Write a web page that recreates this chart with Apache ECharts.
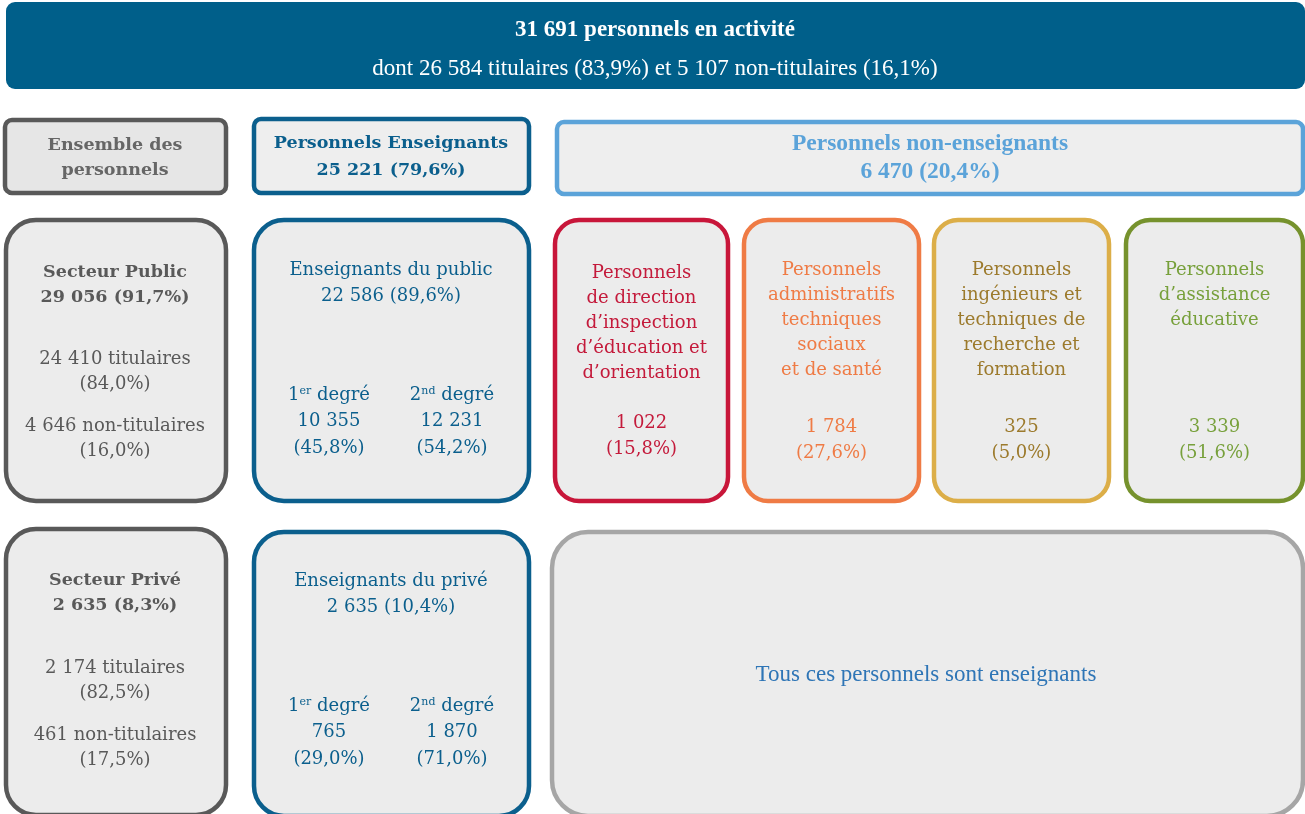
<!DOCTYPE html>
<html>
<head>
<meta charset="utf-8">
<script src="https://cdn.jsdelivr.net/npm/echarts@6/dist/echarts.min.js"></script>
<style>
  html, body { margin: 0; padding: 0; background: #fff; }
  #chart { width: 1305px; height: 814px; }
</style>
</head>
<body>
<div id="chart"></div>
<script>
// effectifs globaux
const totalPersonnels = 31691;
const statutTotal = [26584, 5107];
const statutTotalPct = [83.9, 16.1];

// enseignants / non-enseignants
const groupeLabels = ["Personnels Enseignants", "Personnels non-enseignants"];
const groupeValues = [25221, 6470];
const groupePct = [79.6, 20.4];

// secteurs public / privé
const secteurLabels = ["Secteur Public", "Secteur Privé"];
const secteurValues = [29056, 2635];
const secteurPct = [91.7, 8.3];
const secteurTitulaires = [24410, 2174];
const secteurTitulairesPct = [84.0, 82.5];
const secteurNonTitulaires = [4646, 461];
const secteurNonTitulairesPct = [16.0, 17.5];

// enseignants par secteur et degré
const enseignantsLabels = ["Enseignants du public", "Enseignants du privé"];
const enseignantsValues = [22586, 2635];
const enseignantsPct = [89.6, 10.4];
const degre1Values = [10355, 765];
const degre1Pct = [45.8, 29.0];
const degre2Values = [12231, 1870];
const degre2Pct = [54.2, 71.0];

// non-enseignants par catégorie
const nonEnsLabels = [
  ["Personnels", "de direction", "d\u2019inspection", "d\u2019éducation et", "d\u2019orientation"],
  ["Personnels", "administratifs", "techniques", "sociaux", "et de santé"],
  ["Personnels", "ingénieurs et", "techniques de", "recherche et", "formation"],
  ["Personnels", "d\u2019assistance", "éducative"]
];
const nonEnsValues = [1022, 1784, 325, 3339];
const nonEnsPct = [15.8, 27.6, 5.0, 51.6];

const privNote = "Tous ces personnels sont enseignants";

// couleurs
const cBanner = "#005f8a";
const cGray = "#595959";
const cBlue = "#0b5f8d";
const cLight = "#5ba3d9";
const nonEnsStroke = ["#c8163a", "#ef7b45", "#dcae48", "#76922d"];
const nonEnsText = ["#c41a3b", "#ef7b45", "#9c7a2c", "#77a03b"];

const SERIF = '"DejaVu Serif"';
const NARROW = '"Liberation Serif"';
const FS = 18;    // texte courant
const FSB = 17.5; // texte gras

function fmt(n) {
  return String(n).replace(/\B(?=(\d{3})+(?!\d))/g, " ");
}
function pct(p) {
  return "(" + p.toFixed(1).replace(".", ",") + "%)";
}

function box(x, y, w, h, r, stroke, fill) {
  return {
    type: "rect",
    shape: { x: x + 2, y: y + 2, width: w - 4, height: h - 4, r: r },
    style: { fill: fill, stroke: stroke, lineWidth: 4.5 }
  };
}
function txt(x, y, text, color, size, bold, family) {
  return {
    type: "text",
    x: x,
    y: y,
    style: {
      text: text,
      fill: color,
      fontSize: size,
      fontWeight: bold ? "bold" : "normal",
      fontFamily: family || SERIF,
      align: "center",
      verticalAlign: "middle"
    }
  };
}
function degre(x, y, n, sup, color) {
  return {
    type: "text",
    x: x,
    y: y,
    style: {
      text: "{a|" + n + "}{s|" + sup + "}{a| degré}",
      fill: color,
      align: "center",
      verticalAlign: "middle",
      rich: {
        a: { fontSize: FS, fontFamily: SERIF, fill: color },
        s: { fontSize: 11, fontFamily: SERIF, fill: color, verticalAlign: "top", padding: [0, 0, 7, 0] }
      }
    }
  };
}

const els = [];

// bandeau
els.push({ type: "rect", shape: { x: 6, y: 2, width: 1299, height: 87, r: 9 }, style: { fill: cBanner } });
els.push(txt(655, 30, fmt(totalPersonnels) + " personnels en activité", "#fff", 23, true, NARROW));
els.push(txt(655, 69, "dont " + fmt(statutTotal[0]) + " titulaires (" + statutTotalPct[0].toFixed(1).replace(".", ",") +
  "%) et " + fmt(statutTotal[1]) + " non-titulaires (" + statutTotalPct[1].toFixed(1).replace(".", ",") + "%)", "#fff", 23, false, NARROW));

// rangée des en-têtes
els.push(box(3, 118, 225, 77, 7, cGray, "#e6e6e6"));
els.push(txt(115, 145, "Ensemble des", "#666", FSB, true));
els.push(txt(115, 170, "personnels", "#666", FSB, true));

els.push(box(252, 117, 279, 78, 7, cBlue, "#eeeeee"));
els.push(txt(391, 143, groupeLabels[0], cBlue, FSB, true));
els.push(txt(391, 170, fmt(groupeValues[0]) + " " + pct(groupePct[0]), cBlue, FSB, true));

els.push(box(555, 120, 750, 76, 7, cLight, "#eeeeee"));
els.push(txt(930, 144, groupeLabels[1], cLight, 23.5, true, NARROW));
els.push(txt(930, 172, fmt(groupeValues[1]) + " " + pct(groupePct[1]), cLight, 23.5, true, NARROW));

// secteurs public (i=0) et privé (i=1)
const rowTop = [218, 527];
const rowH = [285, 290];
for (let i = 0; i < 2; i++) {
  const y0 = rowTop[i];
  const dy = i === 0 ? 0 : 309;
  els.push(box(4, y0, 224, rowH[i], 30, cGray, "#ececec"));
  els.push(txt(115, 272 + dy - (i ? 1 : 0), secteurLabels[i], cGray, FSB, true));
  els.push(txt(115, 297 + dy - (i ? 1 : 0), fmt(secteurValues[i]) + " " + pct(secteurPct[i]), cGray, FSB, true));
  els.push(txt(115, 359 + dy, fmt(secteurTitulaires[i]) + " titulaires", cGray, FS));
  els.push(txt(115, 384 + dy, pct(secteurTitulairesPct[i]), cGray, FS));
  els.push(txt(115, 426 + dy, fmt(secteurNonTitulaires[i]) + " non-titulaires", cGray, FS));
  els.push(txt(115, 451 + dy, pct(secteurNonTitulairesPct[i]), cGray, FS));

  const ey = i === 0 ? 218 : 530;
  const edy = i === 0 ? 0 : 311;
  els.push(box(252, ey, 279, i === 0 ? 285 : 288, 30, cBlue, "#ececec"));
  els.push(txt(391, 270 + edy, enseignantsLabels[i], cBlue, FS));
  els.push(txt(391, 296 + edy, fmt(enseignantsValues[i]) + " " + pct(enseignantsPct[i]), cBlue, FS));
  els.push(degre(329, 395 + edy, "1", "er", cBlue));
  els.push(txt(329, 421 + edy, fmt(degre1Values[i]), cBlue, FS));
  els.push(txt(329, 448 + edy, pct(degre1Pct[i]), cBlue, FS));
  els.push(degre(452, 395 + edy, "2", "nd", cBlue));
  els.push(txt(452, 421 + edy, fmt(degre2Values[i]), cBlue, FS));
  els.push(txt(452, 448 + edy, pct(degre2Pct[i]), cBlue, FS));
}

// catégories de non-enseignants
const catX = [553, 742, 932, 1124];
const catW = [177, 179, 179, 181];
for (let k = 0; k < nonEnsLabels.length; k++) {
  const cx = catX[k] + catW[k] / 2;
  els.push(box(catX[k], 218, catW[k], 285, 24, nonEnsStroke[k], "#ececec"));
  const top = k === 0 ? 273 : 270;
  nonEnsLabels[k].forEach(function (line, j) {
    els.push(txt(cx, top + j * 25, line, nonEnsText[k], FS));
  });
  const vy = k === 0 ? 423 : 427;
  els.push(txt(cx, vy, fmt(nonEnsValues[k]), nonEnsText[k], FS));
  els.push(txt(cx, vy + 26, pct(nonEnsPct[k]), nonEnsText[k], FS));
}

// bloc privé non-enseignants
els.push(box(550, 530, 755, 288, 36, "#a6a6a6", "#ececec"));
els.push(txt(926, 675, privNote, "#2e75b6", 23, false, NARROW));

const chart = echarts.init(document.getElementById("chart"));
chart.setOption({
  animation: false,
  graphic: { elements: els }
});
</script>
</body>
</html>
